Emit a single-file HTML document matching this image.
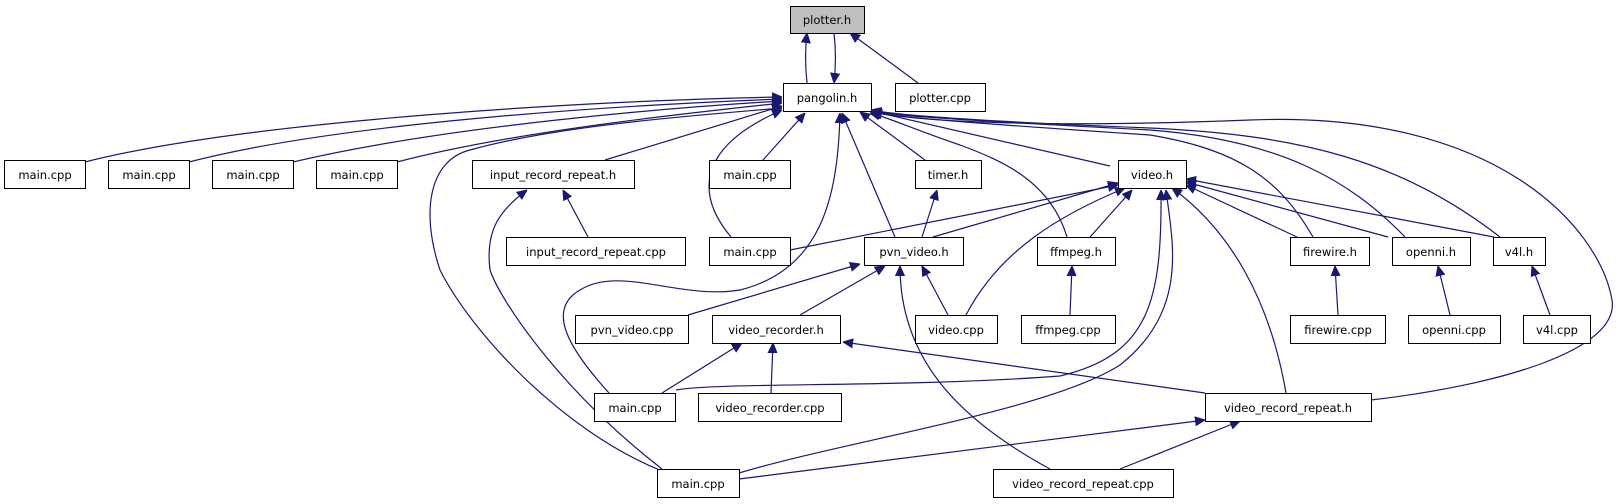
<!DOCTYPE html>
<html><head><meta charset="utf-8"><style>
html,body{margin:0;padding:0;background:#fff}
svg{display:block}
text{font-family:"DejaVu Sans","Liberation Sans",sans-serif;font-size:11.5px;fill:#000}
.n{fill:#fff;stroke:#000;stroke-width:1}
.e{fill:none;stroke:#191970;stroke-width:1.2}
</style></head><body>
<svg width="1619" height="504" viewBox="0 0 1619 504" xmlns="http://www.w3.org/2000/svg">
<defs><marker id="a" viewBox="0 0 10 10" refX="10" refY="5" markerWidth="10" markerHeight="10" markerUnits="userSpaceOnUse" orient="auto"><path d="M0,0.5 L10,5 L0,9.5 z" fill="#191970" stroke="#191970"/></marker></defs>
<g class="e" marker-end="url(#a)">
<path d="M807,83 C805,65 805,50 807,33"/>
<path d="M834,33 C836,50 836,65 834,83"/>
<path d="M918,83 L850,33"/>
<path d="M85,162 C250,120 600,100 782,97"/>
<path d="M189,162 C350,120 650,104 782,99"/>
<path d="M293,162 C450,125 680,107 782,101"/>
<path d="M397,162 C520,130 700,112 782,103"/>
<path d="M605,160 L782,106"/>
<path d="M763,160 L805,113"/>
<path d="M731,237 C700,200 690,150 782,110"/>
<path d="M662,471 C560,430 470,330 440,270 C420,210 430,160 470,150 C560,125 700,115 782,108"/>
<path d="M662,469 C560,390 500,300 490,270 C485,230 500,210 527,190"/>
<path d="M588,237 L563,190"/>
<path d="M609,393 C570,350 545,310 580,290 C620,265 680,300 740,290 C820,270 838,200 840,113"/>
<path d="M662,393 L742,343"/>
<path d="M771,393 L773,343"/>
<path d="M676,390 C720,382 900,388 1060,376 C1150,355 1162,300 1161,190"/>
<path d="M739,473 C850,440 1050,410 1120,365 C1190,310 1172,240 1166,190"/>
<path d="M739,479 L1205,420"/>
<path d="M1120,469 L1240,421"/>
<path d="M1050,469 C960,420 900,360 900,266"/>
<path d="M1205,393 L843,342"/>
<path d="M1286,393 C1270,300 1230,230 1172,188"/>
<path d="M1371,400 C1500,385 1620,350 1612,300 C1600,230 1500,110 1250,120 C1050,128 920,122 872,112"/>
<path d="M895,237 L842,113"/>
<path d="M922,237 L937,190"/>
<path d="M933,237 L1118,183"/>
<path d="M688,315 L860,264"/>
<path d="M800,315 L885,266"/>
<path d="M948,315 L922,266"/>
<path d="M966,315 C1000,250 1060,215 1125,188"/>
<path d="M925,160 L860,112"/>
<path d="M1110,166 L871,111"/>
<path d="M790,250 L1118,185"/>
<path d="M1067,237 C1050,180 1000,160 960,145 C910,128 890,118 870,113"/>
<path d="M1090,237 L1132,190"/>
<path d="M1070,315 L1072,266"/>
<path d="M1313,237 C1280,180 1240,150 1150,135 C1000,125 900,118 871,112"/>
<path d="M1297,237 L1186,185"/>
<path d="M1405,237 C1350,180 1280,140 1150,130 C1000,122 900,117 871,111"/>
<path d="M1388,237 L1186,182"/>
<path d="M1500,237 C1400,160 1300,135 1150,128 C1000,122 900,116 871,110"/>
<path d="M1494,237 L1186,179"/>
<path d="M1338,315 L1335,266"/>
<path d="M1450,315 L1438,266"/>
<path d="M1550,315 L1532,266"/>
</g>
<g>
<rect x="790.5" y="6.5" width="74" height="27" fill="#bfbfbf" stroke="#000"/><text x="827" y="24" text-anchor="middle">plotter.h</text>
<rect class="n" x="783.5" y="83.5" width="88" height="28"/><text x="827" y="102" text-anchor="middle">pangolin.h</text>
<rect class="n" x="895.5" y="83.5" width="90" height="28"/><text x="940" y="102" text-anchor="middle">plotter.cpp</text>

<rect class="n" x="4.5" y="160.5" width="81" height="28"/><text x="45" y="179" text-anchor="middle">main.cpp</text>
<rect class="n" x="108.5" y="160.5" width="81" height="28"/><text x="149" y="179" text-anchor="middle">main.cpp</text>
<rect class="n" x="212.5" y="160.5" width="81" height="28"/><text x="253" y="179" text-anchor="middle">main.cpp</text>
<rect class="n" x="316.5" y="160.5" width="81" height="28"/><text x="357" y="179" text-anchor="middle">main.cpp</text>
<rect class="n" x="472.5" y="160.5" width="162" height="28"/><text x="553" y="179" text-anchor="middle">input_record_repeat.h</text>
<rect class="n" x="709.5" y="160.5" width="81" height="28"/><text x="750" y="179" text-anchor="middle">main.cpp</text>
<rect class="n" x="915.5" y="160.5" width="66" height="28"/><text x="948" y="179" text-anchor="middle">timer.h</text>
<rect class="n" x="1118.5" y="160.5" width="68" height="28"/><text x="1152" y="179" text-anchor="middle">video.h</text>

<rect class="n" x="506.5" y="237.5" width="179" height="28"/><text x="596" y="256" text-anchor="middle">input_record_repeat.cpp</text>
<rect class="n" x="709.5" y="237.5" width="81" height="28"/><text x="750" y="256" text-anchor="middle">main.cpp</text>
<rect class="n" x="864.5" y="237.5" width="99" height="28"/><text x="914" y="256" text-anchor="middle">pvn_video.h</text>
<rect class="n" x="1037.5" y="237.5" width="78" height="28"/><text x="1076" y="256" text-anchor="middle">ffmpeg.h</text>
<rect class="n" x="1290.5" y="237.5" width="79" height="28"/><text x="1330" y="256" text-anchor="middle">firewire.h</text>
<rect class="n" x="1392.5" y="237.5" width="78" height="28"/><text x="1431" y="256" text-anchor="middle">openni.h</text>
<rect class="n" x="1493.5" y="237.5" width="52" height="28"/><text x="1519" y="256" text-anchor="middle">v4l.h</text>

<rect class="n" x="575.5" y="315.5" width="113" height="28"/><text x="632" y="334" text-anchor="middle">pvn_video.cpp</text>
<rect class="n" x="712.5" y="315.5" width="128" height="28"/><text x="776" y="334" text-anchor="middle">video_recorder.h</text>
<rect class="n" x="915.5" y="315.5" width="82" height="28"/><text x="956" y="334" text-anchor="middle">video.cpp</text>
<rect class="n" x="1021.5" y="315.5" width="94" height="28"/><text x="1068" y="334" text-anchor="middle">ffmpeg.cpp</text>
<rect class="n" x="1290.5" y="315.5" width="95" height="28"/><text x="1338" y="334" text-anchor="middle">firewire.cpp</text>
<rect class="n" x="1408.5" y="315.5" width="92" height="28"/><text x="1454" y="334" text-anchor="middle">openni.cpp</text>
<rect class="n" x="1523.5" y="315.5" width="67" height="28"/><text x="1557" y="334" text-anchor="middle">v4l.cpp</text>

<rect class="n" x="594.5" y="393.5" width="81" height="28"/><text x="635" y="412" text-anchor="middle">main.cpp</text>
<rect class="n" x="698.5" y="393.5" width="143" height="28"/><text x="770" y="412" text-anchor="middle">video_recorder.cpp</text>
<rect class="n" x="1205.5" y="393.5" width="166" height="28"/><text x="1288" y="412" text-anchor="middle">video_record_repeat.h</text>

<rect class="n" x="657.5" y="469.5" width="82" height="28"/><text x="698" y="488" text-anchor="middle">main.cpp</text>
<rect class="n" x="993.5" y="469.5" width="180" height="28"/><text x="1083" y="488" text-anchor="middle">video_record_repeat.cpp</text>
</g>
</svg>
</body></html>
